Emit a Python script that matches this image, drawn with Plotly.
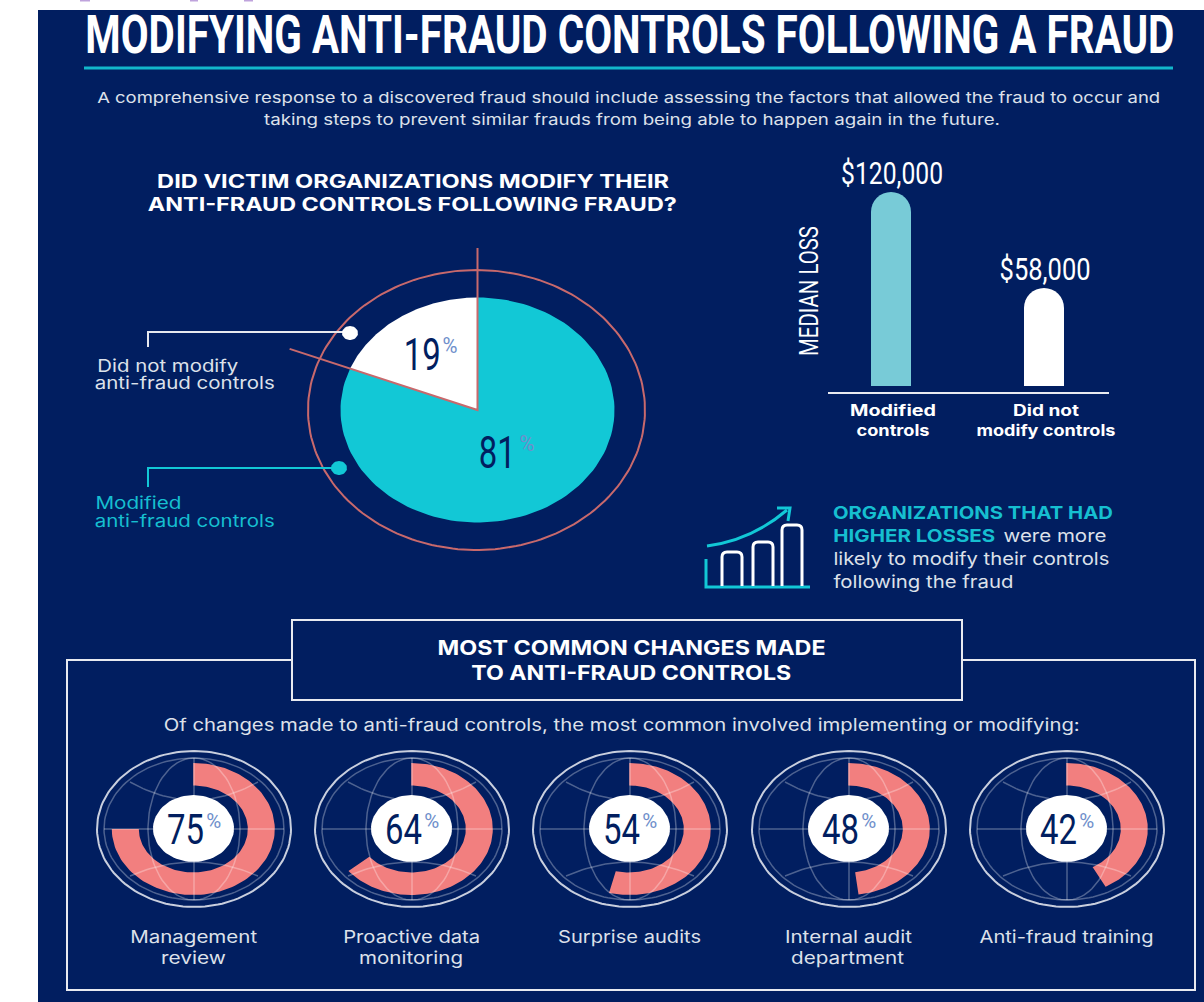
import json
import numpy as np
import plotly.graph_objects as go

# ---------- data ----------
TITLE = "MODIFYING ANTI-FRAUD CONTROLS FOLLOWING A FRAUD"
MODIFY_LABELS = ["Did not modify anti-fraud controls", "Modified anti-fraud controls"]
MODIFY_VALUES = [19, 81]
LOSS_CATEGORIES = ["Modified<br>controls", "Did not<br>modify controls"]
LOSS_VALUES = [120000, 58000]
LOSS_TEXT = ["$120,000", "$58,000"]
CHANGE_LABELS = ["Management<br>review", "Proactive data<br>monitoring", "Surprise audits",
                 "Internal audit<br>department", "Anti-fraud training"]
CHANGE_VALUES = [75, 64, 54, 48, 42]

# ---------- style ----------
NAVY = "#011E60"; TEAL = "#12C8D6"; TEAL_TXT = "#16BFD0"; LIGHT_TEAL = "#78CBD7"
SALMON = "#F27F7F"; RING = "#C8696C"; SOFT = "#DDE1EA"; PCT = "#6F8FCB"
BODY = "Inter"; COND = "Roboto"

fig = go.Figure()
WIDTHS = {"%": 15}   # rendered width of each text line, fitted in the page script below


def pts(cx, cy, rx, ry, a0, a1, n=120):
    t = np.radians(np.linspace(a0, a1, n))
    return cx + rx*np.sin(t), cy - ry*np.cos(t)


def add_fill(x, y, color, name=None):
    fig.add_trace(go.Scatter(x=x, y=y, mode="lines", fill="toself", fillcolor=color,
                             line=dict(width=0, color=color), hoverinfo="skip", name=name or ""))


def add_line(x, y, color, width):
    fig.add_trace(go.Scatter(x=x, y=y, mode="lines", line=dict(color=color, width=width),
                             hoverinfo="skip"))


def wedge(cx, cy, rx, ry, a0, a1):
    x, y = pts(cx, cy, rx, ry, a0, a1)
    return np.r_[cx, x, cx], np.r_[cy, y, cy]


def text(x0, x1, y, s, size=15, color="#FFFFFF", font=BODY, weight=400):
    """One line of text spanning x0..x1 (x1=None: centred on x0 at natural width)."""
    cx = x0 if x1 is None else (x0 + x1) / 2
    if x1 is not None:
        WIDTHS[s] = x1 - x0
    fig.add_annotation(x=cx, y=y, xref="x", yref="y", text=s, showarrow=False, xanchor="center",
                       yanchor="middle", font=dict(size=size, color=color, family=font, weight=weight))


# ---------- main pie ----------
PX, PY, PRX, PRY = 477.5, 410, 137, 112.5
a = MODIFY_VALUES[0] * 3.6
x, y = wedge(PX, PY, PRX, PRY, 0, 360 - a); add_fill(x, y, TEAL, MODIFY_LABELS[1])
x, y = wedge(PX, PY, PRX, PRY, 360 - a, 360); add_fill(x, y, "#FFFFFF", MODIFY_LABELS[0])
x, y = pts(476.5, 410, 168.5, 140, 0, 360, 200); add_line(x, y, RING, 2)
ext = 1.475
x, y = pts(PX, PY, PRX*ext, PRY*ext, 360 - a, 360 - a, 1)
add_line([x[0], PX, PX], [y[0], PY, 248], RING, 2)

# callouts
add_line([148, 148, 345], [347, 332, 332], "#E6E8EE", 2)
x, y = pts(350, 333, 8, 7, 0, 360, 40); add_fill(x, y, "#FFFFFF")
add_line([148, 148, 335], [487, 468, 468], TEAL, 2)
x, y = pts(339, 468, 8, 7, 0, 360, 40); add_fill(x, y, TEAL)

# ---------- donuts ----------
CX = [194, 412, 630, 849, 1067]
DY = 829
for cx, v in zip(CX, CHANGE_VALUES):
    a = v * 3.6
    xo, yo = pts(cx - 0.7, DY, 81.5, 66, 0, a)
    xi, yi = pts(cx - 0.7, DY, 54.5, 43.5, a, 0)
    add_fill(np.r_[xo, xi, xo[0]], np.r_[yo, yi, yo[0]], SALMON)
    grid = "rgba(255,255,255,0.3)"
    x, y = pts(cx, DY, 90, 71, 0, 360, 140); add_line(x, y, grid, 1.5)
    x, y = pts(cx, DY, 97, 78, 0, 360, 140); add_line(x, y, "#C9CFDE", 2)
    add_line([cx, cx], [DY-71, DY+71], grid, 1.5)
    add_line([cx-90, cx+90], [DY, DY], grid, 1.5)
    for rx in (46, -46):
        x, y = pts(cx, DY, rx, 71, 0, 180, 50); add_line(x, y, grid, 1.5)
    for s, mid in ((-1, 29), (1, 33)):
        xs = np.linspace(-64, 64, 40)
        ys = mid + (47 - mid) * (xs/64)**2
        add_line(cx + xs, DY + s*ys, grid, 1.5)
    x, y = pts(cx-0.5, DY-0.5, 40.5, 33.5, 0, 360, 80); add_fill(x, y, "#FFFFFF")

# ---------- bar chart ----------
# The source bars do not start from zero: the axis is offset so both tops land as drawn.
LOSS_OFFSET = 5292
fig.add_trace(go.Bar(x=LOSS_CATEGORIES, y=[v + LOSS_OFFSET for v in LOSS_VALUES],
                     xaxis="x2", yaxis="y2", width=40/153,
                     marker=dict(color=[LIGHT_TEAL, "#FFFFFF"], cornerradius=20, line=dict(width=0)),
                     hoverinfo="skip"))
for c, v, s in zip(LOSS_CATEGORIES, LOSS_VALUES, LOSS_TEXT):
    fig.add_annotation(x=c, y=v + LOSS_OFFSET, xref="x2", yref="y2", text=s, showarrow=False,
                       xanchor="center", yanchor="middle", yshift=19, xshift=1,
                       font=dict(family=COND, size=32, color="#FFFFFF"))
WIDTHS["$120,000"] = 102
WIDTHS["$58,000"] = 91
WIDTHS["MEDIAN LOSS"] = 130
for s, w in (("Modified", 79), ("controls", 73), ("Did not", 66), ("modify controls", 139)):
    WIDTHS[s] = w

# ---------- texts ----------
text(85, 1174, 35, TITLE, 53, "#FFFFFF", COND, 700)
text(97, 1160, 97, "A comprehensive response to a discovered fraud should include assessing the factors that allowed the fraud to occur and", 15, SOFT)
text(264, 1000, 119, "taking steps to prevent similar frauds from being able to happen again in the future.", 15, SOFT)
text(157, 669, 181, "DID VICTIM ORGANIZATIONS MODIFY THEIR", 19, weight=700)
text(148, 677, 204, "ANTI-FRAUD CONTROLS FOLLOWING FRAUD?", 19, weight=700)
text(97, 238, 366, "Did not modify", 17, SOFT)
text(97, 273, 383, "anti-fraud controls", 17, SOFT)
text(95, 181, 503, "Modified", 17, TEAL_TXT)
text(95, 275, 521, "Anti-fraud controls".lower(), 17, TEAL_TXT)
text(404, 441, 354, f"{MODIFY_VALUES[0]}", 45, NAVY, COND)
text(450, None, 345, "%", 22, PCT, COND)
text(479, 516, 452, f"{MODIFY_VALUES[1]}", 45, NAVY, COND)
text(527, None, 443, "%", 22, PCT, COND)

text(833, 1113, 512, "ORGANIZATIONS THAT HAD", 17.5, TEAL_TXT, weight=700)
text(833, 995, 535, "HIGHER LOSSES", 17.5, TEAL_TXT, weight=700)
text(1003, 1106, 535, "were more", 17.5, SOFT)
text(833, 1109, 558, "likely to modify their controls", 17.5, SOFT)
text(833, 1013, 581, "following the fraud", 17.5, SOFT)

text(437, 825, 648, "MOST COMMON CHANGES MADE", 20, weight=700)
text(471, 791, 673, "TO ANTI-FRAUD CONTROLS", 20, weight=700)
text(163, 1079, 725, "Of changes made to anti-fraud controls, the most common involved implementing or modifying:", 17, SOFT)

SPANS = [[(130, 257), (161, 226)], [(343, 480), (359, 463)], [(558, 701)],
         [(785, 912), (791, 904)], [(979, 1153)]]
for cx, v, lab, spans in zip(CX, CHANGE_VALUES, CHANGE_LABELS, SPANS):
    text(cx-27.5, cx+9.5, 829, f"{v}", 42, NAVY, COND)
    text(cx+19, None, 821, "%", 21, PCT, COND)
    for i, (part, (x0, x1)) in enumerate(zip(lab.split("<br>"), spans)):
        text(x0, x1, 937 + 21*i, part, 17, SOFT)


# ---------- shapes ----------
def rect(x0, y0, x1, y1, fill=None, line=None, w=2, layer="below"):
    return dict(type="rect", xref="x", yref="y", x0=x0, y0=y0, x1=x1, y1=y1, layer=layer,
                fillcolor=fill or "rgba(0,0,0,0)", line=dict(color=line or "rgba(0,0,0,0)", width=w if line else 0))


def path(d, color, w=3, fill=None):
    return dict(type="path", xref="x", yref="y", path=d, layer="above",
                line=dict(color=color, width=w), fillcolor=fill or "rgba(0,0,0,0)")


def tower(x0, x1, top, bottom=586):
    return f"M{x0},{bottom} L{x0},{top+5} Q{x0},{top} {x0+5},{top} L{x1-5},{top} Q{x1},{top} {x1},{top+5} L{x1},{bottom}"


shapes = [
    rect(38, 10, 1204, 1002, fill=NAVY),
    rect(84, 66.5, 1173, 69.5, fill="#12B7CB"),
    rect(67, 660, 1195, 990, line="#E8EAF0"),
    rect(292, 620, 962, 700, fill=NAVY, line="#E8EAF0"),
    rect(80, 0, 90, 1.5, fill="#BFA3DC"),
    rect(190, 0, 198, 1.5, fill="#BFA3DC"),
    rect(244, 0, 253, 1.5, fill="#BFA3DC"),
    path("M706,559 L706,587 L810,587", TEAL),
    path(tower(722, 742, 552), "#FFFFFF"),
    path(tower(753, 773, 542), "#FFFFFF"),
    path(tower(782, 802, 525), "#FFFFFF"),
    path("M707,546 Q752,540 787,510", TEAL),
    path("M777,508 L790,508 L788,521", TEAL),
]

fig.update_layout(
    width=1204, height=1002, margin=dict(l=0, r=0, t=0, b=0), showlegend=False,
    paper_bgcolor="#FFFFFF", plot_bgcolor="rgba(0,0,0,0)", shapes=shapes,
    font=dict(family=BODY, color="#FFFFFF"),
    xaxis=dict(range=[0, 1204], domain=[0, 1], visible=False, fixedrange=True),
    yaxis=dict(range=[1002, 0], domain=[0, 1], visible=False, fixedrange=True),
    xaxis2=dict(domain=[828/1204, 1109/1204], anchor="y2", type="category",
                range=[-63/153, 1 + 65/153], showline=True, linecolor="#E8EAF0", linewidth=2,
                ticks="", showgrid=False, zeroline=False, ticklabelstandoff=3, ticklabelshift=2,
                tickfont=dict(family=BODY, size=15.5, color="#FFFFFF", weight=700)),
    yaxis2=dict(domain=[1 - 392/1002, 1 - 190/1002], anchor="x2",
                range=[-3875, 126584],
                showticklabels=False, ticks="", showgrid=False, zeroline=False, showline=False,
                title=dict(text="MEDIAN LOSS", font=dict(family=COND, size=26, color="#FFFFFF"), standoff=0)),
)

# Fit each line of real text to the width it has in the reference.
post = """
document.body.style.margin='0';document.body.style.overflow='hidden';
var W=%s;
function fit(){
  document.querySelectorAll('svg text, svg text tspan.line').forEach(function(t){
    var w=W[t.textContent.trim()];
    if(w){t.setAttribute('textLength',w);t.setAttribute('lengthAdjust','spacingAndGlyphs');}
  });
}
fit();setTimeout(fit,100);setTimeout(fit,500);
""" % json.dumps(WIDTHS)

fig.write_html("out.html", post_script=post, config={"displayModeBar": False})
